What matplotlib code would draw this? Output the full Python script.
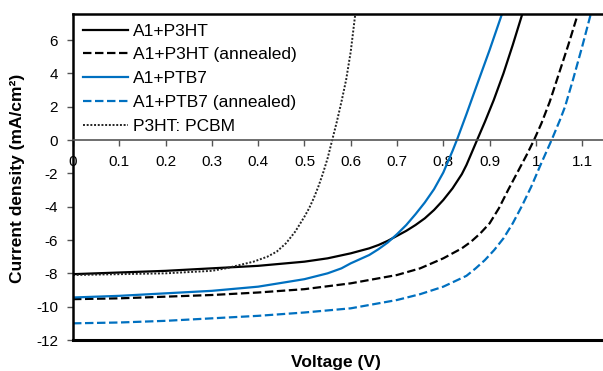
import matplotlib
matplotlib.use('Agg')
import matplotlib.pyplot as plt

plt.rcParams['font.family'] = ['Liberation Sans', 'DejaVu Sans']

# Curvas J-V (tensão em V, densidade de corrente em mA/cm2)
v_p3ht = [0, 0.1, 0.2, 0.3, 0.4, 0.5, 0.55, 0.6, 0.62, 0.64, 0.66, 0.68, 0.7, 0.72, 0.74, 0.76, 0.78,
          0.8, 0.82, 0.84, 0.85, 0.86, 0.873, 0.89, 0.909, 0.93, 0.95, 0.97]
j_p3ht = [-8.05, -7.95, -7.85, -7.7, -7.55, -7.3, -7.1, -6.8, -6.65, -6.5, -6.3, -6.05, -5.75, -5.45, -5.1, -4.7, -4.2,
          -3.6, -2.9, -2.05, -1.5, -0.85, 0, 1.1, 2.4, 4.0, 5.7, 7.5]

v_p3ht_ann = [0, 0.1, 0.2, 0.3, 0.4, 0.5, 0.6, 0.7, 0.75, 0.8, 0.82, 0.84, 0.86, 0.88, 0.9, 0.92, 0.94, 0.96,
              0.98, 0.996, 1.012, 1.03, 1.05, 1.07, 1.09]
j_p3ht_ann = [-9.55, -9.5, -9.4, -9.3, -9.15, -8.95, -8.6, -8.1, -7.7, -7.1, -6.8, -6.5, -6.1, -5.6, -5.0, -4.1, -3.0, -1.95,
              -0.9, 0, 1.0, 2.3, 4.0, 5.7, 7.5]

v_ptb7 = [0, 0.1, 0.2, 0.3, 0.4, 0.5, 0.55, 0.58, 0.6, 0.62, 0.64, 0.66, 0.68, 0.7, 0.72, 0.74, 0.76, 0.78,
          0.8, 0.82, 0.83, 0.84, 0.85, 0.87, 0.9, 0.926]
j_ptb7 = [-9.45, -9.35, -9.2, -9.05, -8.8, -8.35, -8.0, -7.7, -7.4, -7.15, -6.9, -6.55, -6.15, -5.65, -5.1, -4.45, -3.75, -2.95,
          -1.95, -0.65, 0.05, 0.8, 1.55, 3.1, 5.4, 7.5]

v_ptb7_ann = [0, 0.1, 0.2, 0.3, 0.4, 0.5, 0.6, 0.7, 0.75, 0.8, 0.85, 0.87, 0.89, 0.91, 0.93, 0.95, 0.97, 0.99,
              1.01, 1.034, 1.052, 1.063, 1.08, 1.1, 1.118]
j_ptb7_ann = [-11.0, -10.95, -10.85, -10.7, -10.55, -10.35, -10.1, -9.6, -9.25, -8.8, -8.15, -7.7, -7.2, -6.6, -5.9, -5.0, -3.95, -2.8,
              -1.5, 0, 1.2, 2.0, 3.6, 5.6, 7.5]

v_pcbm = [0, 0.1, 0.2, 0.3, 0.33, 0.36, 0.39, 0.42, 0.44, 0.46, 0.48, 0.5, 0.51, 0.52, 0.53, 0.54, 0.55,
          0.56, 0.57, 0.58, 0.59, 0.6, 0.61]
j_pcbm = [-8.1, -8.05, -8.0, -7.85, -7.7, -7.5, -7.3, -7.0, -6.7, -6.2, -5.5, -4.6, -4.1, -3.5, -2.8, -2.0, -1.1,
          0, 1.1, 2.3, 3.6, 5.3, 7.6]

x_ticks = [0, 0.1, 0.2, 0.3, 0.4, 0.5, 0.6, 0.7, 0.8, 0.9, 1.0, 1.1]
x_labels = ['0', '0.1', '0.2', '0.3', '0.4', '0.5', '0.6', '0.7', '0.8', '0.9', '1', '1.1']
y_ticks = [-12, -10, -8, -6, -4, -2, 0, 2, 4, 6]
y_labels = ['-12', '-10', '-8', '-6', '-4', '-2', '0', '2', '4', '6']

azul = '#0070C0'
tracejado = (0, (3.8, 1.6))

fig = plt.figure(figsize=(6.03, 3.71), dpi=100)
ax = fig.add_axes([73/603, 31/371, 530/603, 326/371])

ax.plot(v_p3ht, j_p3ht, color='black', lw=1.6, label='A1+P3HT')
ax.plot(v_p3ht_ann, j_p3ht_ann, color='black', lw=1.6, linestyle=tracejado, label='A1+P3HT (annealed)')
ax.plot(v_ptb7, j_ptb7, color=azul, lw=1.6, label='A1+PTB7')
ax.plot(v_ptb7_ann, j_ptb7_ann, color=azul, lw=1.6, linestyle=tracejado, label='A1+PTB7 (annealed)')
ax.plot(v_pcbm, j_pcbm, color='#222222', lw=1.4, linestyle=(0, (1, 0.9)), label='P3HT: PCBM')

ax.set_xlim(0, 1.145)
ax.set_ylim(-12, 7.56)

# Eixo x passando por zero, moldura preta
ax.spines['bottom'].set_position(('data', 0))
ax.spines['bottom'].set_color('#555555')
ax.spines['bottom'].set_linewidth(1.2)
ax.spines['right'].set_visible(False)
ax.spines['left'].set_linewidth(1.8)
ax.spines['top'].set_linewidth(1.8)
ax.axhline(-12, color='black', lw=2.2, clip_on=False, zorder=5)

ax.set_xticks(x_ticks)
ax.set_xticklabels(x_labels)
ax.set_yticks(y_ticks)
ax.set_yticklabels(y_labels)
ax.tick_params(axis='x', direction='out', length=4.3, width=1, pad=6.5, labelsize=11, color='#555555')
ax.tick_params(axis='y', direction='out', length=4.3, width=1, pad=6.5, labelsize=11, color='#555555')

ax.legend(loc='upper left', bbox_to_anchor=(10/530, 1 - 9.5/326), frameon=False,
          fontsize=12.5, handlelength=2.6, handletextpad=0.3, labelspacing=0.5,
          borderpad=0, borderaxespad=0)

fig.text(336/603, 1 - 362.5/371, 'Voltage (V)', ha='center', va='center', fontsize=12.5, weight='bold')
fig.text(18/603, 1 - 178/371, 'Current density (mA/cm²)', ha='center', va='center',
         rotation=90, fontsize=12.5, weight='bold')

fig.savefig('out.png', dpi=100)
